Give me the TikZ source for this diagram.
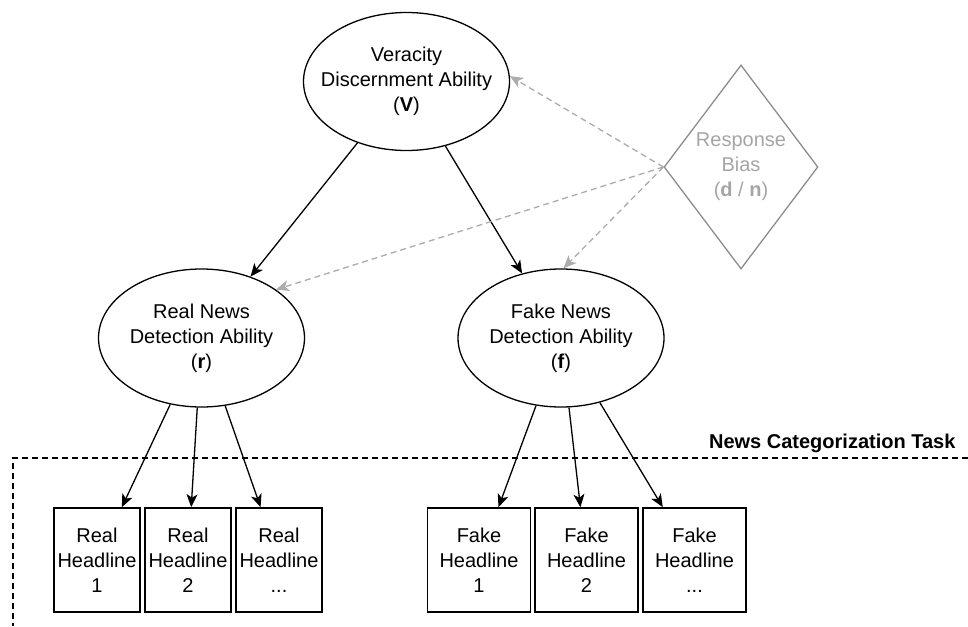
\documentclass[tikz,border=0pt]{standalone}
\usepackage{fontspec}
\setmainfont{Liberation Sans}
\usetikzlibrary{shapes.geometric,arrows.meta}
\definecolor{rbline}{RGB}{140,140,140}
\definecolor{rbtext}{RGB}{165,165,165}
\definecolor{rbdash}{RGB}{172,172,172}
\begin{document}
\begin{tikzpicture}[x=1pt,y=-1pt,
  font=\fontsize{20}{25}\selectfont,
  latent/.style={ellipse, draw, line width=1.3pt, minimum width=206pt, minimum height=138pt,
    inner xsep=-14pt, inner ysep=0pt, align=center},
  biasnode/.style={diamond, draw=rbline, text=rbtext, line width=1.3pt, aspect=0.755,
    minimum width=154pt, minimum height=204pt, inner sep=0pt, align=center},
  headline/.style={rectangle, draw, line width=1.6pt, minimum height=104pt, inner sep=0pt, align=center},
  realbox/.style={headline, minimum width=86pt},
  fakebox/.style={headline, minimum width=103pt},
  cause/.style={line width=1.3pt, -{Stealth[length=13pt,width=11pt,inset=3.5pt]}},
  biasarrow/.style={draw=rbdash, line width=1.3pt, dash pattern=on 6pt off 4pt,
    -{Stealth[length=13pt,width=11pt,inset=3.5pt,fill=rbdash]}},
  taskline/.style={line width=1.3pt, dash pattern=on 6pt off 4pt}]
\useasboundingbox (0,0) rectangle (968,626);

% latent nodes
\node[latent] (v) at (406.5,81.5) {Veracity\\Discernment Ability\\(\textbf{V})};
\node[latent] (r) at (201.5,338) {Real News\\Detection Ability\\(\textbf{r})};
\node[latent] (f) at (561,338) {Fake News\\Detection Ability\\(\textbf{f})};
\node[biasnode] (rb) at (741,167) {Response\\Bias\\(\textbf{d} / \textbf{n})};

% headlines
\node[realbox] (rh1) at (97,560) {Real\\Headline\\1};
\node[realbox] (rh2) at (188,560) {Real\\Headline\\2};
\node[realbox] (rh3) at (279,560) {Real\\Headline\\...};
\node[fakebox] (fh1) at (479,560) {Fake\\Headline\\1};
\node[fakebox] (fh2) at (586.5,560) {Fake\\Headline\\2};
\node[fakebox] (fh3) at (694.5,560) {Fake\\Headline\\...};

% task region
\coordinate (tc) at (13,458);
\coordinate (te) at (968,458);
\coordinate (tb) at (13,626);
\draw[taskline] (te) -- (tc) -- (tb);
\node[anchor=base east, font=\fontsize{20}{25}\selectfont\bfseries] (task) at (959,448) {News Categorization Task};

% causal arrows
\draw[cause] (v) -- (r);
\draw[cause] (v) -- (f);
\draw[cause] (r) -- (rh1);
\draw[cause] (r) -- (rh2);
\draw[cause] (r) -- (rh3);
\draw[cause] (f) -- (fh1);
\draw[cause] (f) -- (fh2);
\draw[cause] (f) -- (fh3);

% response bias arrows
\draw[biasarrow] (rb.west) -- (v.3);
\draw[biasarrow] (rb.west) -- (r.33);
\draw[biasarrow] (rb.west) -- (f.88);
\end{tikzpicture}
\end{document}
